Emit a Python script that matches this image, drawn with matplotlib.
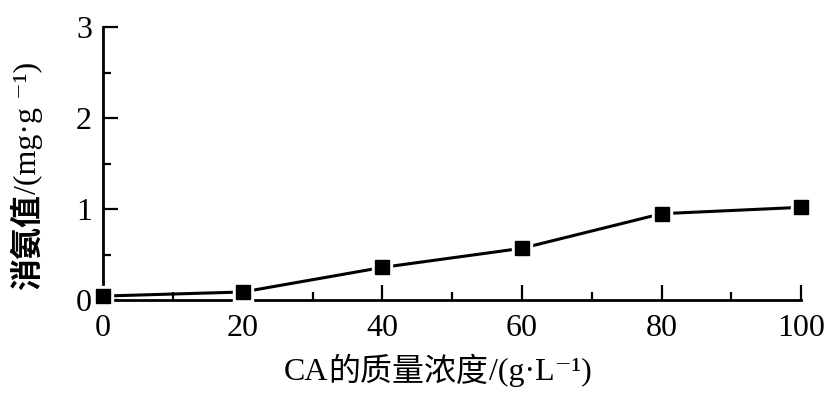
import matplotlib
matplotlib.use("Agg")
import matplotlib.pyplot as plt
from matplotlib.ticker import MultipleLocator

# data
conc = [0, 20, 40, 60, 80, 100]           # CA 的质量浓度 (g/L)
ammonia = [0.045, 0.09, 0.36, 0.57, 0.95, 1.02]  # 消氨值 (mg/g)

x_ticks = [0, 20, 40, 60, 80, 100]
y_ticks = [0, 1, 2, 3]

SERIF = ["Liberation Serif", "DejaVu Serif", "Noto Sans CJK SC"]
CJK = ["Noto Sans CJK SC", "DejaVu Sans"]
FS = 23

plt.rcParams["font.family"] = SERIF

fig = plt.figure(figsize=(8.32, 4.04), dpi=100)
ax = fig.add_axes([0.124, 0.257, 0.839, 0.676])

ax.plot(conc, ammonia, color="black", lw=2.2, zorder=2)
# white halo so the line stops short of each marker
ax.plot(conc, ammonia, ls="none", marker="s", ms=15, color="white", zorder=3, clip_on=False)
ax.plot(conc, ammonia, ls="none", marker="s", ms=10, color="black", zorder=4, clip_on=False)

ax.set_xlim(0, 100)
ax.set_ylim(0, 3)
ax.set_xticks(x_ticks)
ax.set_yticks(y_ticks)
ax.xaxis.set_minor_locator(MultipleLocator(10))
ax.yaxis.set_minor_locator(MultipleLocator(0.5))
ax.spines[["top", "right"]].set_visible(False)
for s in ("left", "bottom"):
    ax.spines[s].set_linewidth(2.0)
ax.tick_params(which="both", direction="in", labelsize=FS, width=1.6)
ax.tick_params(axis="x", pad=10)
ax.tick_params(axis="y", pad=8)
ax.tick_params(which="major", length=11)
ax.tick_params(which="minor", length=6)


def pieces_text(parts, cx, cy, vertical=False):
    """Lay out text pieces of mixed fonts end to end, centred on (cx, cy) in figure fraction."""
    rend = fig.canvas.get_renderer()
    rot = 90 if vertical else 0
    objs, sizes = [], []
    for s, fam, wt in parts:
        t = fig.text(0, 0, s, family=fam, weight=wt, fontsize=FS, rotation=rot,
                     ha="left" if not vertical else "center",
                     va="center" if not vertical else "bottom")
        bb = t.get_window_extent(rend)
        objs.append(t)
        sizes.append(bb.height if vertical else bb.width)
    W, H = fig.bbox.width, fig.bbox.height
    total = sum(sizes)
    if vertical:
        pos = cy * H - total / 2
        for t, sz in zip(objs, sizes):
            t.set_position((cx, pos / H))
            pos += sz
    else:
        pos = cx * W - total / 2
        for t, sz in zip(objs, sizes):
            t.set_position((pos / W, cy))
            pos += sz


pieces_text([("CA", SERIF, "normal"),
             ("的质量浓度", CJK, "medium"),
             ("/(g·L\u207b\u00b9)", SERIF, "normal")], 0.526, 0.079)
pieces_text([("消氨值", CJK, "bold"),
             ("/(mg·g \u207b\u00b9)", SERIF, "normal")], 0.034, 0.564, vertical=True)

fig.savefig("out.png", dpi=100)
